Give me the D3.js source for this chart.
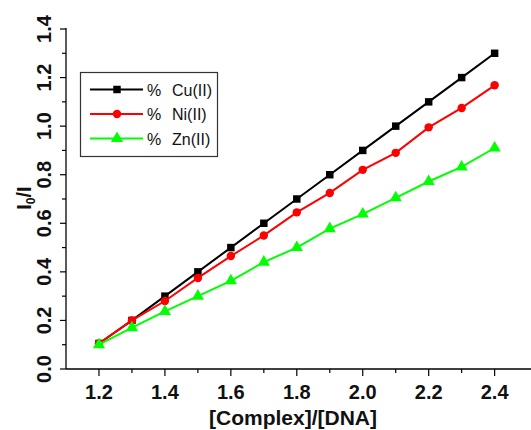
<!DOCTYPE html>
<html><head><meta charset="utf-8">
<script src="https://cdn.jsdelivr.net/npm/d3@7/dist/d3.min.js"></script>
<style>body{margin:0;background:#fff}svg{display:block}text{font-family:"Liberation Sans",Arial,sans-serif}</style>
</head><body><svg id="c" width="531" height="430"></svg>
<script>
const xValues = [1.2,1.3,1.4,1.5,1.6,1.7,1.8,1.9,2.0,2.1,2.2,2.3,2.4];
const cuValues = [0.105,0.20,0.30,0.40,0.50,0.60,0.70,0.80,0.90,1.00,1.10,1.20,1.30];
const niValues = [0.105,0.20,0.28,0.375,0.465,0.55,0.645,0.725,0.82,0.89,0.995,1.075,1.168];
const znValues = [0.10,0.17,0.237,0.30,0.363,0.44,0.50,0.578,0.638,0.705,0.772,0.832,0.91];
const seriesNames = ["Cu(II)","Ni(II)","Zn(II)"];
const seriesColors = ["#000000","#ff0000","#00ff00"];
const xTicks = [1.2,1.4,1.6,1.8,2.0,2.2,2.4];
const yTicks = [0.0,0.2,0.4,0.6,0.8,1.0,1.2,1.4];

const svg = d3.select("#c");
const x = d3.scaleLinear().domain([1.1,2.5]).range([66,527.6]);
const y = d3.scaleLinear().domain([0,1.4]).range([369,29]);

// axes
const xAxis = svg.append("g").attr("transform","translate(0,369)");
xAxis.append("line").attr("x1",66).attr("x2",531).attr("y1",0).attr("y2",0).attr("stroke","#000").attr("stroke-width",1.3);
const xMinor = d3.range(13).map(i=>+(1.1+i*0.1).toFixed(1)).filter(v=>!xTicks.includes(v) && v>1.1);
xAxis.selectAll(".xm").data(xMinor).join("line").attr("x1",d=>x(d)).attr("x2",d=>x(d)).attr("y1",0).attr("y2",4).attr("stroke","#000").attr("stroke-width",1.2);
xAxis.selectAll(".xM").data(xTicks).join("line").attr("x1",d=>x(d)).attr("x2",d=>x(d)).attr("y1",0).attr("y2",7).attr("stroke","#000").attr("stroke-width",1.2);
xAxis.selectAll(".xl").data(xTicks).join("text").attr("x",d=>x(d)).attr("y",30).attr("text-anchor","middle")
  .attr("font-size",20).attr("font-weight","bold").attr("fill","#111").text(d=>d3.format(".1f")(d));

const yAxis = svg.append("g");
yAxis.append("line").attr("x1",66).attr("x2",66).attr("y1",28).attr("y2",369).attr("stroke","#000").attr("stroke-width",1.3);
const yMinor = d3.range(7).map(i=>+(0.1+i*0.2).toFixed(1));
yAxis.selectAll(".ym").data(yMinor).join("line").attr("x1",62).attr("x2",66).attr("y1",d=>y(d)).attr("y2",d=>y(d)).attr("stroke","#000").attr("stroke-width",1.2);
yAxis.selectAll(".yM").data(yTicks).join("line").attr("x1",60).attr("x2",66).attr("y1",d=>y(d)).attr("y2",d=>y(d)).attr("stroke","#000").attr("stroke-width",1.2);
yAxis.selectAll(".yl").data(yTicks).join("text")
  .attr("transform",d=>`translate(51,${y(d)}) rotate(-90)`).attr("text-anchor","middle")
  .attr("font-size",20).attr("font-weight","bold").attr("fill","#111").text(d=>d3.format(".1f")(d));

// titles
svg.append("text").attr("x",293).attr("y",425).attr("text-anchor","middle").attr("font-size",21).attr("font-weight","bold").attr("fill","#111").text("[Complex]/[DNA]");
const yt = svg.append("text").attr("transform","translate(31,198) rotate(-90)").attr("text-anchor","middle").attr("font-size",20).attr("font-weight","bold").attr("fill","#111");
yt.append("tspan").text("I");
yt.append("tspan").attr("font-size",12).attr("dy",4).text("0");
yt.append("tspan").attr("dy",-4).text("/I");

// series
const all = [cuValues,niValues,znValues];
const symbols = [d3.symbolSquare,d3.symbolCircle,d3.symbolTriangle];
const sizes = [56,56,64];
const line = d3.line().x((d,i)=>x(xValues[i])).y(d=>y(d));
all.forEach((vals,k)=>{
  svg.append("path").attr("d",line(vals)).attr("fill","none").attr("stroke",seriesColors[k]).attr("stroke-width",2);
  svg.selectAll(".p"+k).data(vals).join("path")
    .attr("transform",(d,i)=>`translate(${x(xValues[i])},${y(d)})`)
    .attr("d",d3.symbol().type(symbols[k]).size(sizes[k])).attr("fill",seriesColors[k]);
});

// legend
const lg = svg.append("g");
lg.append("rect").attr("x",80.5).attr("y",72.5).attr("width",137).attr("height",84).attr("fill","#fff").attr("stroke","#333").attr("stroke-width",1.2);
const rowsY = [89.5,114,138.5];
seriesNames.forEach((n,k)=>{
  lg.append("line").attr("x1",90).attr("x2",143).attr("y1",rowsY[k]).attr("y2",rowsY[k]).attr("stroke",seriesColors[k]).attr("stroke-width",2);
  lg.append("path").attr("transform",`translate(117,${rowsY[k]})`).attr("d",d3.symbol().type(symbols[k]).size(sizes[k])).attr("fill",seriesColors[k]);
  lg.append("text").attr("x",147).attr("y",rowsY[k]+6).attr("font-size",16).attr("fill","#111").text("%");
  lg.append("text").attr("x",172).attr("y",rowsY[k]+6).attr("font-size",16).attr("fill","#111").text(n);
});
</script></body></html>
